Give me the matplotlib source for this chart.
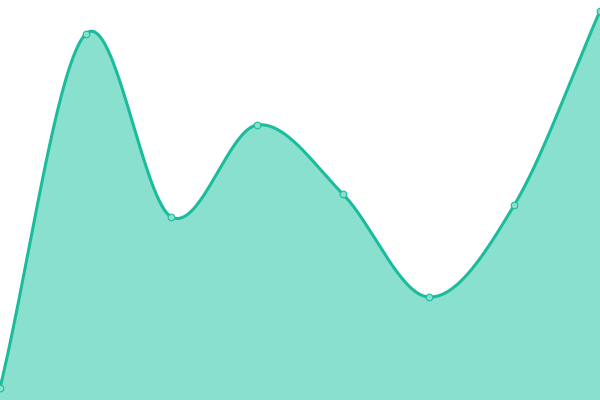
import numpy as np
import matplotlib.pyplot as plt

categories = list(range(8))
values = [12, 366, 183, 275, 206, 103, 195, 389]

LINE = '#1abc9c'
FILL = '#8ae0cf'


def smooth(xs, ys, n=40):
    # catmull-rom style cubic hermite through the points
    xs = np.asarray(xs, float)
    ys = np.asarray(ys, float)
    m = np.zeros_like(ys)
    m[1:-1] = (ys[2:] - ys[:-2]) / (xs[2:] - xs[:-2])
    m[0] = (ys[1] - ys[0]) / (xs[1] - xs[0])
    m[-1] = (ys[-1] - ys[-2]) / (xs[-1] - xs[-2])
    out_x, out_y = [], []
    for i in range(len(xs) - 1):
        h = xs[i + 1] - xs[i]
        t = np.linspace(0, 1, n, endpoint=False)
        h00 = 2 * t**3 - 3 * t**2 + 1
        h10 = t**3 - 2 * t**2 + t
        h01 = -2 * t**3 + 3 * t**2
        h11 = t**3 - t**2
        out_x.append(xs[i] + t * h)
        out_y.append(h00 * ys[i] + h10 * h * m[i] + h01 * ys[i + 1] + h11 * h * m[i + 1])
    out_x.append([xs[-1]])
    out_y.append([ys[-1]])
    return np.concatenate(out_x), np.concatenate(out_y)


sx, sy = smooth(categories, values)

fig = plt.figure(figsize=(6, 4), dpi=100)
ax = fig.add_axes([0, 0, 1, 1])
ax.fill_between(sx, sy, 0, color=FILL, lw=0)
ax.plot(sx, sy, color=LINE, lw=2.2, solid_capstyle='round')
ax.plot(categories, values, 'o', ms=4.8, mfc=FILL, mec=LINE, mew=0.8)
ax.set_xlim(0, 7)
ax.set_ylim(0, 400)
ax.axis('off')
fig.savefig('out.png')
